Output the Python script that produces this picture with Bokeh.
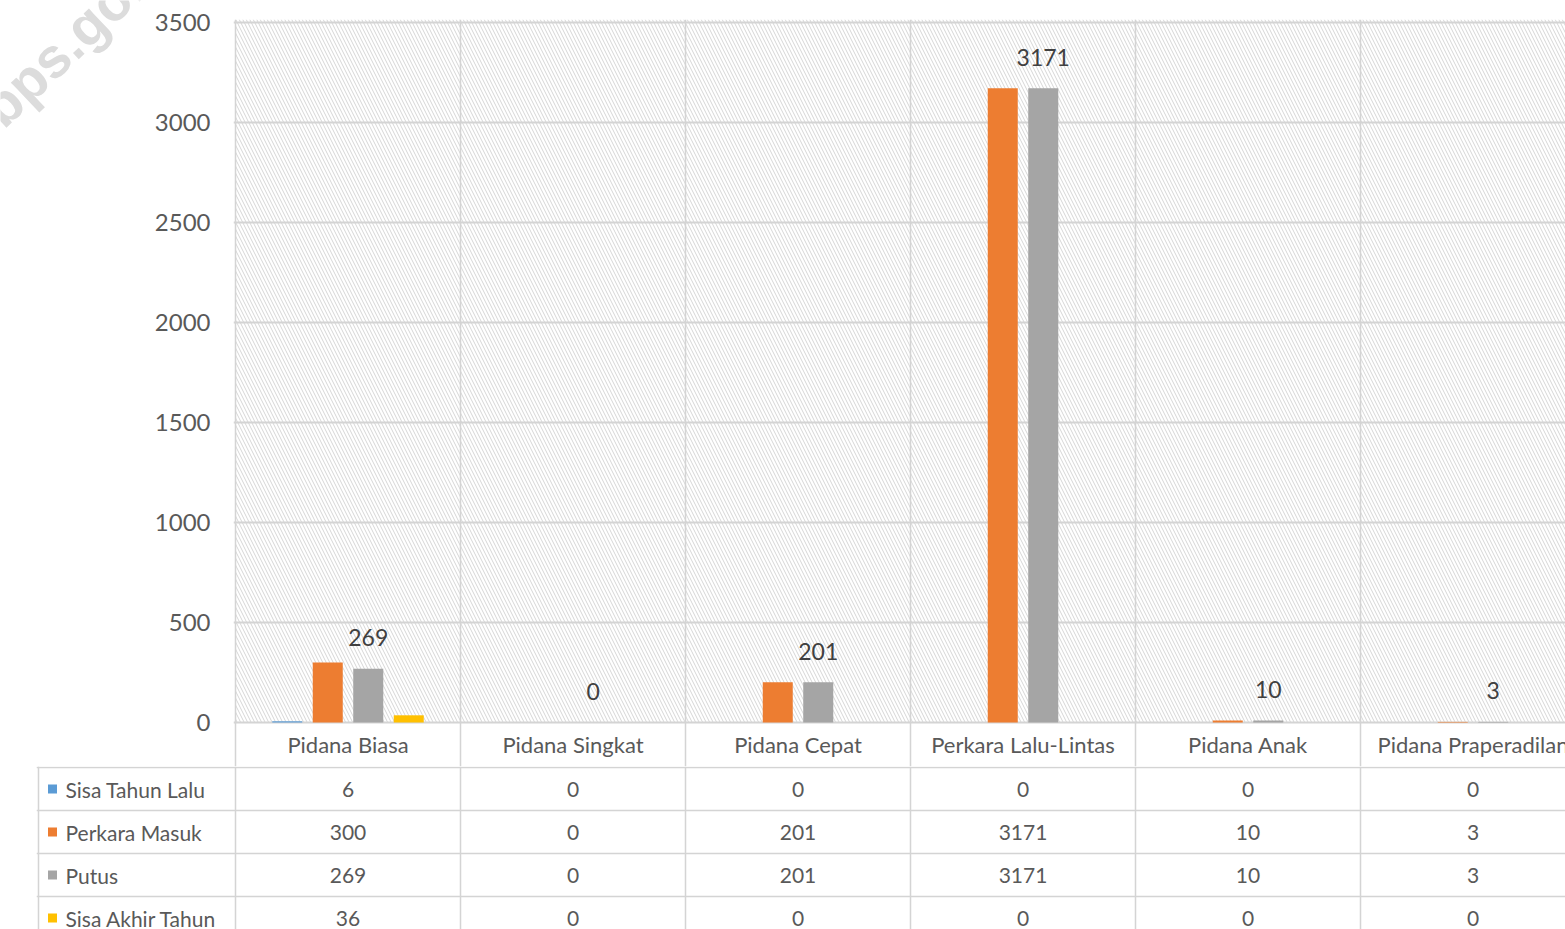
from bokeh.plotting import figure
from bokeh.models import Range1d, FixedTicker
from bokeh.layouts import column, row
from bokeh.embed import file_html
from bokeh.resources import INLINE
from bokeh.core.properties import value

# ---------------- data ----------------
categories = ["Pidana Biasa", "Pidana Singkat", "Pidana Cepat",
              "Perkara Lalu-Lintas", "Pidana Anak", "Pidana Praperadilan"]
series_names = ["Sisa Tahun Lalu", "Perkara Masuk", "Putus", "Sisa Akhir Tahun"]
sisa_tahun_lalu = [6, 0, 0, 0, 0, 0]
perkara_masuk = [300, 0, 201, 3171, 10, 3]
putus = [269, 0, 201, 3171, 10, 3]
sisa_akhir_tahun = [36, 0, 0, 0, 0, 0]
y_ticks = [0, 500, 1000, 1500, 2000, 2500, 3000, 3500]
watermark = "bps.go.id"

series_values = [sisa_tahun_lalu, perkara_masuk, putus, sisa_akhir_tahun]
colors = ["#5b9bd5", "#ed7d31", "#a5a5a5", "#ffc000"]

# ---------------- layout constants ----------------
W = 1565
TOP_H = 766
TAB_H = 163
WM_W = 150
CAT_PX = 225.0
FONT = "Lato"
TXT = "#595959"
GRID = "#d4d4d4"


def no_align(fig):
    if "frame_align" in fig.properties():
        fig.frame_align = False


def plain(fig):
    no_align(fig)
    fig.outline_line_color = None
    fig.grid.visible = False
    fig.background_fill_color = "white"
    fig.border_fill_color = "white"


# ---------------- watermark strip (top-left) ----------------
wm = figure(width=WM_W, height=TOP_H, output_backend="svg",
            toolbar_location=None, x_range=Range1d(0, WM_W),
            y_range=Range1d(TOP_H, 0), x_axis_location=None,
            y_axis_location=None, min_border_left=0, min_border_right=0,
            min_border_top=0, min_border_bottom=0)
plain(wm)
wm.text(x=[80], y=[30], text=[watermark], angle=0.76,
        text_align="center", text_baseline="middle",
        text_font=value("Liberation Sans"), text_font_style="bold",
        text_font_size="56px", text_color="#dcdcdc")

# ---------------- main chart ----------------
top_left_border = 233 - WM_W
top_border_top = 19
x_start = -2 / CAT_PX
x_end = x_start + (W - WM_W - top_left_border) / CAT_PX
y_end = 3515
y_start = y_end - (TOP_H - top_border_top) * 5

p = figure(width=W - WM_W, height=TOP_H, output_backend="svg",
           toolbar_location=None,
           x_range=Range1d(x_start, x_end), y_range=Range1d(y_start, y_end),
           x_axis_location=None, min_border_left=top_left_border,
           min_border_right=0, min_border_top=top_border_top,
           min_border_bottom=0)
plain(p)

yax = p.yaxis[0]
yax.ticker = FixedTicker(ticks=y_ticks)
yax.axis_line_color = None
yax.major_tick_line_color = None
yax.minor_tick_line_color = None
yax.major_tick_out = 0
yax.major_tick_in = 0
yax.major_label_standoff = 23
yax.major_label_text_font = FONT
yax.major_label_text_font_size = "24px"
yax.major_label_text_color = TXT

n = len(categories)
# hatched plot area
p.quad(left=[0], right=[n], bottom=[0], top=[y_end], fill_color="white",
       line_color=None, hatch_pattern="left_diagonal_line",
       hatch_color="#d6d6d6", hatch_scale=7, hatch_weight=1)
# gridlines
p.hspan(y=y_ticks, line_color=GRID, line_width=2)
p.vspan(x=list(range(n)), line_color=GRID, line_width=1.5)

offsets = [-0.27, -0.09, 0.09, 0.27]
bar_w = 30 / CAT_PX
for s, vals in enumerate(series_values):
    xs = [i + 0.5 + offsets[s] for i in range(n)]
    p.vbar(x=xs, top=vals, bottom=0, width=bar_w, fill_color=colors[s],
           line_color=None)

# data labels for "Putus"
p.text(x=[i + 0.5 + offsets[2] for i in range(n)], y=putus,
       text=[str(v) for v in putus], y_offset=-31,
       text_align="center", text_baseline="middle",
       text_font=value(FONT), text_font_size="23px", text_color="#404040")

# category header row
p.text(x=[i + 0.5 for i in range(n)], y=[-110] * n, text=categories,
       text_align="center", text_baseline="middle",
       text_font=value(FONT), text_font_size="22px", text_color=TXT)

# ---------------- data table ----------------
tab_left_border = 36
tx_start = -199 / CAT_PX
tx_end = tx_start + (W - tab_left_border) / CAT_PX
table_left = -197 / CAT_PX
ROW_H = 43

t = figure(width=W, height=TAB_H, output_backend="svg", toolbar_location=None,
           x_range=Range1d(tx_start, tx_end), y_range=Range1d(TAB_H - 1, -1),
           x_axis_location=None, y_axis_location=None,
           min_border_left=tab_left_border, min_border_right=0,
           min_border_top=0, min_border_bottom=0)
plain(t)

t.hspan(y=[r * ROW_H for r in range(len(series_names))], line_color=GRID,
        line_width=1.5)
t.vspan(x=[table_left] + list(range(n)), line_color=GRID, line_width=1.5)

for s, (name, vals) in enumerate(zip(series_names, series_values)):
    yc = s * ROW_H + ROW_H / 2
    t.scatter(x=[table_left + 14 / CAT_PX], y=[yc], marker="square", size=9,
              fill_color=colors[s], line_color=None)
    t.text(x=[table_left + 27 / CAT_PX], y=[yc], text=[name],
           text_align="left", text_baseline="middle",
           text_font=value(FONT), text_font_size="21px", text_color=TXT)
    t.text(x=[i + 0.5 for i in range(n)], y=[yc] * n,
           text=[str(v) for v in vals], text_align="center",
           text_baseline="middle", text_font=value(FONT),
           text_font_size="21px", text_color=TXT)

layout = column(row(wm, p, spacing=0), t, spacing=0)
open("out.html", "w").write(file_html(layout, INLINE))
